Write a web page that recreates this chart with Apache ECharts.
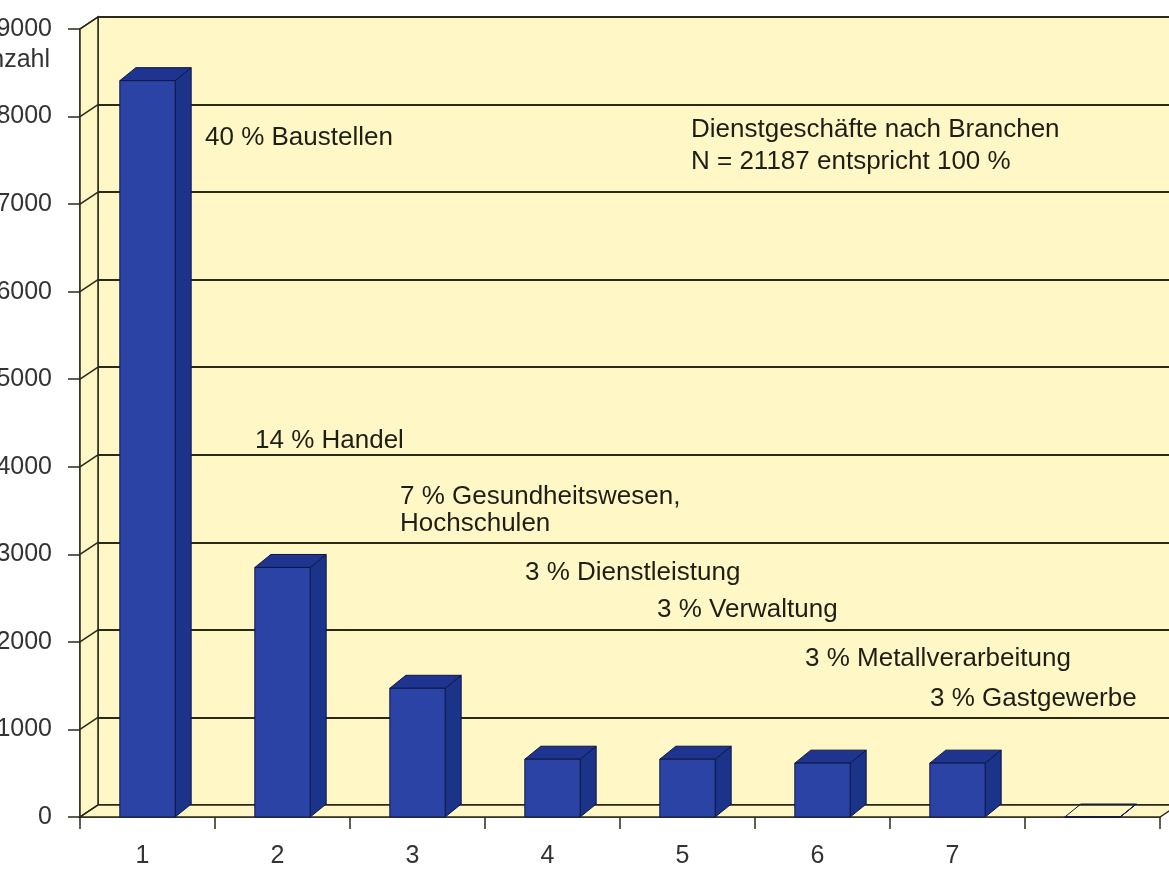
<!DOCTYPE html>
<html>
<head>
<meta charset="utf-8">
<script src="https://cdn.jsdelivr.net/npm/echarts@6/dist/echarts.min.js"></script>
<style>
html,body{margin:0;padding:0;background:#ffffff;overflow:hidden;width:1169px;height:870px;}
#c{position:absolute;left:-30px;top:0;width:1230px;height:870px;}
</style>
</head>
<body>
<div id="c"></div>
<script>
// ---- data ----
const categories = ['1', '2', '3', '4', '5', '6', '7', ''];
const counts = [8410, 2850, 1470, 660, 660, 615, 615, 0];
const yTicks = [0, 1000, 2000, 3000, 4000, 5000, 6000, 7000, 8000, 9000];
const yAxisName = 'Anzahl';
const annotationTexts = [
  '40 % Baustellen',
  '14 % Handel',
  '7 % Gesundheitswesen,',
  'Hochschulen',
  '3 % Dienstleistung',
  '3 % Verwaltung',
  '3 % Metallverarbeitung',
  '3 % Gastgewerbe',
  'Dienstgeschäfte nach Branchen',
  'N = 21187 entspricht 100 %'
];

// ---- style ----
const FONT = '"Liberation Sans", Arial, sans-serif';
const WALL = '#fff7c6';
const LINE = '#2a2a18';
const DEPTH_X = 18, DEPTH_Y = -12;      // wall depth
const BAR_DX = 16, BAR_DY = -13;        // bar depth
const yMax = yTicks[yTicks.length - 1];
const yInterval = yTicks[1] - yTicks[0];

const barData = counts.map((v, i) => [i, v]);

const chart = echarts.init(document.getElementById('c'), null, {renderer: 'canvas'});

function wallsRender(params, api) {
  const n = categories.length;
  const band = api.size([1, 0])[0];
  const c0b = api.coord([0, 0]);
  const c0t = api.coord([0, yMax]);
  const cnb = api.coord([n - 1, 0]);
  const fb = [c0b[0] - band / 2, c0b[1]];
  const ft = [c0t[0] - band / 2, c0t[1]];
  const fr = [cnb[0] + band / 2, cnb[1]];
  const children = [];
  // left side wall
  children.push({
    type: 'polygon',
    shape: {points: [fb, ft, [ft[0] + DEPTH_X, ft[1] + DEPTH_Y], [fb[0] + DEPTH_X, fb[1] + DEPTH_Y]]},
    style: {fill: WALL, stroke: LINE, lineWidth: 1.5}
  });
  // floor
  children.push({
    type: 'polygon',
    shape: {points: [fb, fr, [fr[0] + DEPTH_X, fr[1] + DEPTH_Y], [fb[0] + DEPTH_X, fb[1] + DEPTH_Y]]},
    style: {fill: WALL, stroke: LINE, lineWidth: 1.5}
  });
  // connectors on side wall
  yTicks.forEach(v => {
    const p = api.coord([0, v]);
    const x = p[0] - band / 2;
    children.push({
      type: 'line',
      shape: {x1: x, y1: p[1], x2: x + DEPTH_X, y2: p[1] + DEPTH_Y},
      style: {stroke: LINE, lineWidth: 1.5}
    });
  });
  return {type: 'group', children};
}

function barRender(params, api) {
  const idx = api.value(0);
  const v = api.value(1);
  const top = api.coord([idx, v]);
  const base = api.coord([idx, 0]);
  const bw = api.size([1, 0])[0];
  const hw = bw * 0.205;
  const x0 = top[0] - hw, x1 = top[0] + hw;
  const yT = top[1], yB = base[1];
  const flat = v === 0;
  const stroke = '#0c1848';
  return {
    type: 'group',
    children: [
      {
        type: 'polygon',
        shape: {points: [[x1, yT], [x1 + BAR_DX, yT + BAR_DY], [x1 + BAR_DX, yB + BAR_DY], [x1, yB]]},
        style: {fill: flat ? 'none' : '#1b3389', stroke, lineWidth: 1}
      },
      {
        type: 'polygon',
        shape: {points: [[x0, yT], [x0 + BAR_DX, yT + BAR_DY], [x1 + BAR_DX, yT + BAR_DY], [x1, yT]]},
        style: {fill: flat ? 'none' : '#1e348f', stroke, lineWidth: 1}
      },
      {
        type: 'polygon',
        shape: {points: [[x0, yT], [x1, yT], [x1, yB], [x0, yB]]},
        style: {fill: flat ? 'none' : '#2c43a6', stroke, lineWidth: 1}
      }
    ]
  };
}

function txt(i, x, y) {
  return {
    type: 'text', x: x + 30, y: y, z: 100,
    style: {text: annotationTexts[i], fontSize: 26, fontFamily: FONT, fill: '#1e1e14', verticalAlign: 'middle', align: 'left'}
  };
}

const option = {
  backgroundColor: '#ffffff',
  animation: false,
  grid: [
    {left: 110, right: 40, top: 29, bottom: 53, outerBoundsMode: 'none', containLabel: false},
    {left: 128, right: 22, top: 17, bottom: 65, outerBoundsMode: 'none', containLabel: false, show: true, backgroundColor: WALL, borderColor: LINE, borderWidth: 1.5}
  ],
  xAxis: [
    {
      gridIndex: 0, type: 'category', data: categories, boundaryGap: true,
      axisLine: {show: true, lineStyle: {color: LINE, width: 1.5}},
      axisTick: {show: true, interval: 0, length: 12, lineStyle: {color: LINE, width: 1.5}},
      axisLabel: {interval: 0, fontSize: 25, fontFamily: FONT, color: '#333333', margin: 27, padding: [0, 10, 0, 0]},
      splitLine: {show: false}
    },
    {
      gridIndex: 1, type: 'category', data: categories, boundaryGap: true,
      axisLine: {show: false}, axisTick: {show: false}, axisLabel: {show: false}, splitLine: {show: false}
    }
  ],
  yAxis: [
    {
      gridIndex: 0, type: 'value', min: 0, max: yMax, interval: yInterval,
      name: yAxisName, nameLocation: 'end', nameGap: -31,
      nameTextStyle: {fontSize: 25, fontFamily: FONT, color: '#333333', align: 'right', verticalAlign: 'middle', padding: [0, 30, 0, 0]},
      axisLine: {show: true, lineStyle: {color: LINE, width: 1.5}},
      axisTick: {show: true, length: 12, lineStyle: {color: LINE, width: 1.5}},
      axisLabel: {fontSize: 25, fontFamily: FONT, color: '#333333', margin: 28, padding: [0, 0, 8, 0], formatter: v => String(v)},
      splitLine: {show: false}
    },
    {
      gridIndex: 1, type: 'value', min: 0, max: yMax, interval: yInterval,
      axisLine: {show: false}, axisTick: {show: false}, axisLabel: {show: false},
      splitLine: {show: true, lineStyle: {color: LINE, width: 1.8}}
    }
  ],
  series: [
    {
      type: 'custom', xAxisIndex: 0, yAxisIndex: 0, z: 1, clip: false, silent: true,
      renderItem: wallsRender, data: [[0, 0]], encode: {x: 0, y: 1}
    },
    {
      type: 'custom', xAxisIndex: 0, yAxisIndex: 0, z: 3, clip: false,
      renderItem: barRender, data: barData, encode: {x: 0, y: 1}
    }
  ],
  graphic: [
    txt(0, 205, 138),
    txt(1, 255, 441),
    txt(2, 400, 497),
    txt(3, 400, 524),
    txt(4, 525, 573),
    txt(5, 657, 610),
    txt(6, 805, 659),
    txt(7, 930, 699),
    txt(8, 691, 130),
    txt(9, 691, 162)
  ]
};
chart.setOption(option);
</script>
</body>
</html>
